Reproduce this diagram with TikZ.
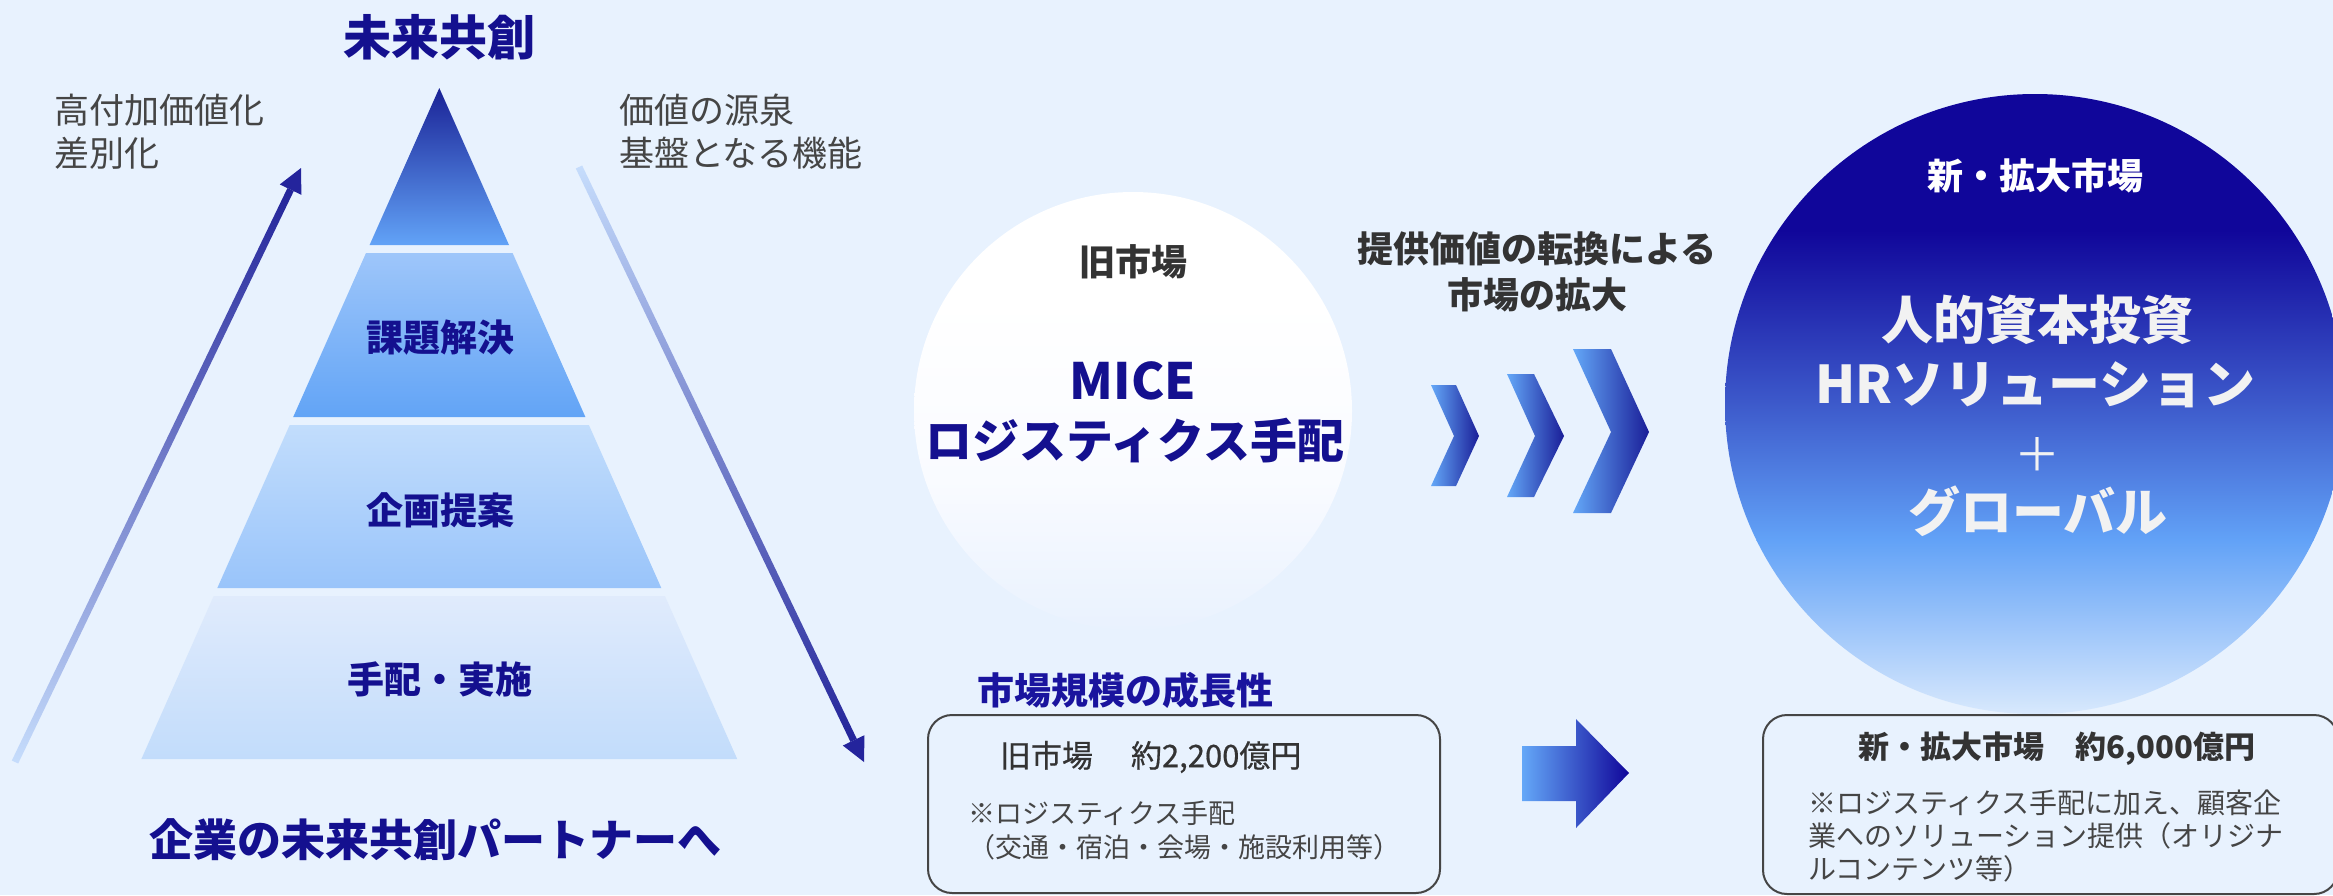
\documentclass[tikz,border=0pt]{standalone}
\usepackage{fontspec}
\setmainfont{Noto Sans CJK JP}
\newfontfamily\jpmed{Noto Sans CJK JP}[FakeBold=0.6]
\usetikzlibrary{calc}
\definecolor{bg}{HTML}{E8F2FE}
\definecolor{navy}{HTML}{14108F}
\definecolor{deep}{HTML}{10069A}
\definecolor{headblue}{HTML}{24249C}
\definecolor{txtgray}{HTML}{333333}
\definecolor{notegray}{HTML}{454545}
\definecolor{lineLight}{HTML}{C6DDFC}
\definecolor{lineDark}{HTML}{23249A}
\definecolor{triTop}{HTML}{1A2296}
\definecolor{triBot}{HTML}{62A3F7}
\definecolor{l2Top}{HTML}{9EC6FA}
\definecolor{l2Bot}{HTML}{62A4F6}
\definecolor{l3Top}{HTML}{C2DDFC}
\definecolor{l3Bot}{HTML}{99C4FA}
\definecolor{l4Top}{HTML}{E0EBFC}
\definecolor{l4Bot}{HTML}{C2DCFB}
\definecolor{chevL}{HTML}{64A8F8}
\definecolor{chevR}{HTML}{1A1E98}
\definecolor{midblue}{HTML}{3D5ACB}
\definecolor{skyblue}{HTML}{62A2F7}
\definecolor{paleblue}{HTML}{DCEBFD}
\definecolor{oldMid}{HTML}{F9FBFF}
\definecolor{oldBot}{HTML}{E8F1FE}
\definecolor{circText}{HTML}{F2F2F2}
\definecolor{headNavy}{HTML}{1A149E}
\newcommand{\fsz}[2]{\fontsize{#1}{#2}\selectfont}
\tikzset{
  txt/.style={inner sep=0pt, outer sep=0pt},
  layerlbl/.style={txt, text=navy, font=\fsz{37}{44}\bfseries},
  sidetxt/.style={txt, text=notegray, align=left, font=\fsz{35}{43}},
  whitetxt/.style={txt, text=circText, font=\fsz{52}{65}\bfseries},
  notetxt/.style={txt, text=notegray, align=left},
  boxframe/.style={draw=notegray, line width=2pt, rounded corners=24pt, inner sep=0pt, fill=none},
  chevron/.style={left color=chevL, right color=chevR, draw=none},
}
\begin{document}
\begin{tikzpicture}[x=1pt,y=-1pt]
\useasboundingbox (0,0) rectangle (2333,895);
\fill[bg] (0,0) rectangle (2333,895);

% ---------------- pyramid ----------------
\coordinate (apex) at (439.3,88);
\shade[top color=triTop, bottom color=triBot] (apex) -- (509.0,245) -- (369.6,245) -- cycle;
\shade[top color=l2Top, bottom color=l2Bot] (366.0,253) -- (512.6,253) -- (585.4,417) -- (293.2,417) -- cycle;
\shade[top color=l3Top, bottom color=l3Bot] (289.7,425) -- (588.9,425) -- (661.3,588) -- (217.3,588) -- cycle;
\shade[top color=l4Top, bottom color=l4Bot] (213.7,596) -- (664.9,596) -- (737.2,759) -- (141.4,759) -- cycle;

\node[layerlbl] (lay2) at (440,338) {課題解決};
\node[layerlbl] (lay3) at (440,510) {企画提案};
\node[layerlbl] (lay4) at (440,679) {手配・実施};

\node[txt, text=navy, font=\fsz{48}{56}\bfseries] (title) at (439,37) {未来共創};
\node[txt, text=navy, font=\fsz{44}{52}\bfseries] (partner) at (435,840) {企業の未来共創パートナーへ};

\node[sidetxt, anchor=west] (lefttxt) at (54,132) {高付加価値化\\差別化};
\node[sidetxt, anchor=west] (righttxt) at (619,132) {価値の源泉\\基盤となる機能};

% ---------------- slanted arrows ----------------
\coordinate (la0) at (15,762);
\coordinate (la1) at (301,168);
\coordinate (lah) at ($(la1)!24pt!(la0)$);
\shade[top color=lineDark, bottom color=lineLight]
  ($(la0)!3.5pt!90:(la1)$) -- ($(la0)!3.5pt!-90:(la1)$) -- ($(lah)!3.5pt!-90:(la1)$) -- ($(lah)!3.5pt!90:(la1)$) -- cycle;
\fill[headblue] (la1) -- ($(lah)!12pt!90:(la1)$) -- ($(lah)!12pt!-90:(la1)$) -- cycle;

\coordinate (ra0) at (579,167);
\coordinate (ra1) at (864,762);
\coordinate (rah) at ($(ra1)!24pt!(ra0)$);
\shade[top color=lineLight, bottom color=lineDark]
  ($(ra0)!3.5pt!90:(ra1)$) -- ($(ra0)!3.5pt!-90:(ra1)$) -- ($(rah)!3.5pt!-90:(ra1)$) -- ($(rah)!3.5pt!90:(ra1)$) -- cycle;
\fill[headblue] (ra1) -- ($(rah)!12pt!90:(ra1)$) -- ($(rah)!12pt!-90:(ra1)$) -- cycle;

% ---------------- old market circle ----------------
\begin{scope}
\clip (1133,411) circle[radius=219];
\fill[white] (900,180) rectangle (1360,300.5);
\shade[top color=white, bottom color=oldMid] (900,300) rectangle (1360,480.5);
\shade[top color=oldMid, bottom color=oldBot] (900,480) rectangle (1360,640);
\end{scope}
\node[circle, minimum size=438pt, inner sep=0pt] (oldc) at (1133,411) {};
\node[txt, text=txtgray, font=\fsz{36}{44}\bfseries] (oldlbl) at (1133,262) {旧市場};
\node[txt, text=navy, font=\fsz{50}{58}\bfseries] (mice) at (1133,381) {MICE};
\node[txt, text=navy, font=\fsz{47}{56}\bfseries] (logi) at (1135,441) {ロジスティクス手配};

% ---------------- transformation text + chevrons ----------------
\node[txt, text=txtgray, align=center, font=\fsz{36}{46}\bfseries] (conv) at (1537,272) {提供価値の転換による\\市場の拡大};
\shade[chevron] (1431,385) -- (1456,385) -- (1479,436) -- (1456,486) -- (1431,486) -- (1454,436) -- cycle;
\shade[chevron] (1507,374) -- (1534,374) -- (1564,436) -- (1534,497) -- (1507,497) -- (1535,436) -- cycle;
\shade[chevron] (1573,349) -- (1611,349) -- (1649,432) -- (1611,513) -- (1573,513) -- (1611,432) -- cycle;

% ---------------- new market circle ----------------
\begin{scope}
\clip (2035,404) circle[radius=310];
\fill[deep] (1700,90) rectangle (2350,230.5);
\shade[top color=deep, bottom color=midblue] (1700,230) rectangle (2350,404.5);
\shade[top color=midblue, bottom color=skyblue] (1700,404) rectangle (2350,540.5);
\shade[top color=skyblue, bottom color=paleblue] (1700,540) rectangle (2350,720);
\end{scope}
\node[circle, minimum size=620pt, inner sep=0pt] (newc) at (2035,404) {};
\node[txt, text=white, font=\fsz{36}{44}\bfseries] (newlbl) at (2035,176) {新・拡大市場};
\node[whitetxt] (hr1) at (2037,320) {人的資本投資};
\node[whitetxt] (hr2) at (2035,385) {HRソリューション};
\node[txt, text=circText, font=\fsz{46}{52}] (plus) at (2037,454) {＋};
\node[whitetxt] (glob) at (2038,511) {グローバル};

% ---------------- market size ----------------
\node[txt, text=headNavy, font=\fsz{37}{44}\bfseries] (growth) at (1125,690) {市場規模の成長性};

\node[boxframe, minimum width=512pt, minimum height=178pt] (box1) at (1184,804) {};
\node[txt, text=txtgray, font=\fsz{31}{38}\jpmed, anchor=west] (amt1) at (1000,757) {旧市場\hspace{38pt}約2,200億円};
\node[notetxt, font=\fsz{27}{34}, anchor=west] (note1) at (968,830) {※ロジスティクス手配\\（交通・宿泊・会場・施設利用等）};

\shade[left color=chevL, right color=deep] (1522,746) -- (1576,746) -- (1576,719) -- (1629,773) -- (1576,828) -- (1576,801) -- (1522,801) -- cycle;

\node[boxframe, minimum width=575pt, minimum height=179pt] (box2) at (2050.5,804.5) {};
\node[txt, text=txtgray, font=\fsz{31}{38}\bfseries] (amt2) at (2057,749) {新・拡大市場\hspace{31pt}約6,000億円};
\node[notetxt, font=\fsz{28}{33}, anchor=west] (note2) at (1808,836) {※ロジスティクス手配に加え、顧客企\\業へのソリューション提供（オリジナ\\ルコンテンツ等）};
\end{tikzpicture}
\end{document}
